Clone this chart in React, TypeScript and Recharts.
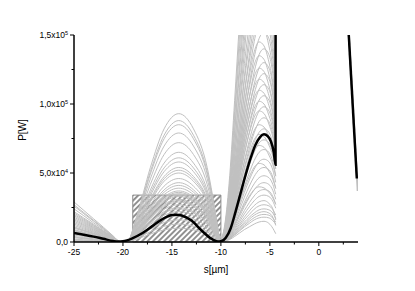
import React from 'react';
import { LineChart, Line, XAxis, YAxis, ReferenceArea } from 'recharts';

const FONT = '"Liberation Sans", Arial, Helvetica, sans-serif';

// ---- axes ----
const xTicks = [-25, -22.5, -20, -17.5, -15, -12.5, -10, -7.5, -5, -2.5, 0, 2.5];
const xMajor = [-25, -20, -15, -10, -5, 0];
const xMajorLabels = ['-25', '-20', '-15', '-10', '-5', '0'];
const yTicks = [0, 25, 50, 75, 100, 125, 150]; // in 10^3 W
const yMajor = [0, 50, 100, 150];
const yMantissa = ['0,0', '5,0x10', '1,0x10', '1,5x10'];
const yExponent = ['', '4', '5', '5'];

// ---- black curve (10^3 W) ----
const blackX = [-25, -24, -23, -22, -21, -20.5, -20, -19, -18, -17, -16, -15, -14.5, -14, -13, -12, -11, -10.3, -10, -9.5, -9, -8.5, -8, -7.5, -7, -6.5, -6, -5.6, -5.2, -4.9, -4.6, -4.42, -4.4];
const blackY = [6.5, 5.3, 3.9, 2.3, 0.7, 0.3, 0.5, 2.8, 6.5, 11.5, 16.5, 19.5, 19.8, 19.2, 15.5, 8.5, 2.5, 0.3, 0.5, 3, 10, 22, 35, 48, 60, 70, 76, 78, 76.5, 73, 65, 56, 400];
const blackRightX = [2.9, 3.88];
const blackRightY = [170, 46];
const grayRightX = [2.9, 3.97];
const grayRightY = [170, 37];

// ---- gray curves, part 1: left slope + hump ----
const humpX = [-25, -24, -23, -22, -21, -20.3, -19.6, -18.6, -17.2, -15.8, -14.3, -12.8, -11.4, -10.6, -10.1];
const humpRows = [
  [8, 6.3, 4.6, 3, 1.2, 0.1, 0, 18.6, 54, 82, 93, 82, 54, 23, 0],
  [12, 9.5, 7, 4.4, 1.8, 0.1, 0, 17.6, 51, 77.4, 88, 77.4, 51, 22, 0],
  [5, 4, 2.9, 1.9, 0.8, 0, 0, 17, 49.3, 74.8, 85, 74.8, 49.3, 21.3, 0],
  [18, 14.2, 10.4, 6.7, 2.7, 0.2, 0, 15.8, 45.8, 69.5, 79, 69.5, 45.8, 19.8, 0],
  [10, 7.9, 5.8, 3.7, 1.5, 0.1, 0, 14.4, 41.8, 63.4, 72, 63.4, 41.8, 18, 0],
  [29, 22.9, 16.8, 10.7, 4.4, 0.3, 0, 13, 37.7, 57.2, 65, 57.2, 37.7, 16.3, 0],
  [14, 11.1, 8.1, 5.2, 2.1, 0.1, 0, 12.2, 35.4, 53.7, 61, 53.7, 35.4, 15.3, 0],
  [3, 2.4, 1.7, 1.1, 0.5, 0, 0, 11.6, 33.6, 51, 58, 51, 33.6, 14.5, 0],
  [22, 17.4, 12.8, 8.1, 3.3, 0.2, 0, 10.8, 31.3, 47.5, 54, 47.5, 31.3, 13.5, 0],
  [7, 5.5, 4.1, 2.6, 1.1, 0.1, 0, 10.4, 30.2, 45.8, 52, 45.8, 30.2, 13, 0],
  [26, 20.5, 15.1, 9.6, 3.9, 0.3, 0, 10, 29, 44, 50, 44, 29, 12.5, 0],
  [16, 12.6, 9.3, 5.9, 2.4, 0.2, 0, 9.2, 26.7, 40.5, 46, 40.5, 26.7, 11.5, 0],
  [1, 0.8, 0.6, 0.4, 0.2, 0, 0, 8.6, 24.9, 37.8, 43, 37.8, 24.9, 10.8, 0],
  [20, 15.8, 11.6, 7.4, 3, 0.2, 0, 8.2, 23.8, 36.1, 41, 36.1, 23.8, 10.3, 0],
  [11, 8.7, 6.4, 4.1, 1.7, 0.1, 0, 7.8, 22.6, 34.3, 39, 34.3, 22.6, 9.8, 0],
  [24, 19, 13.9, 8.9, 3.6, 0.2, 0, 7.4, 21.5, 32.6, 37, 32.6, 21.5, 9.3, 0],
  [3.5, 2.8, 2, 1.3, 0.5, 0, 0, 7.2, 20.9, 31.7, 36, 31.7, 20.9, 9, 0],
  [4, 3.2, 2.3, 1.5, 0.6, 0, 0, 7, 20.3, 30.8, 35, 30.8, 20.3, 8.8, 0],
  [10.5, 8.3, 6.1, 3.9, 1.6, 0.1, 0, 6.8, 19.7, 29.9, 34, 29.9, 19.7, 8.5, 0],
  [15, 11.9, 8.7, 5.6, 2.3, 0.2, 0, 6.6, 19.1, 29, 33, 29, 19.1, 8.3, 0],
  [9, 7.1, 5.2, 3.3, 1.4, 0.1, 0, 6.2, 18, 27.3, 31, 27.3, 18, 7.8, 0],
  [8.5, 6.7, 4.9, 3.1, 1.3, 0.1, 0, 6, 17.4, 26.4, 30, 26.4, 17.4, 7.5, 0],
  [27, 21.3, 15.7, 10, 4.1, 0.3, 0, 5.8, 16.8, 25.5, 29, 25.5, 16.8, 7.3, 0],
  [2, 1.6, 1.2, 0.7, 0.3, 0, 0, 5.4, 15.7, 23.8, 27, 23.8, 15.7, 6.8, 0],
  [13, 10.3, 7.5, 4.8, 2, 0.1, 0, 5, 14.5, 22, 25, 22, 14.5, 6.3, 0],
  [1.5, 1.2, 0.9, 0.6, 0.2, 0, 0, 4.8, 13.9, 21.1, 24, 21.1, 13.9, 6, 0],
  [6, 4.7, 3.5, 2.2, 0.9, 0.1, 0, 4.4, 12.8, 19.4, 22, 19.4, 12.8, 5.5, 0],
  [17, 13.4, 9.9, 6.3, 2.6, 0.2, 0, 3.8, 11, 16.7, 19, 16.7, 11, 4.8, 0],
  [0.5, 0.4, 0.3, 0.2, 0.1, 0, 0, 3.2, 9.3, 14.1, 16, 14.1, 9.3, 4, 0],
  [21, 16.6, 12.2, 7.8, 3.2, 0.2, 0, 2.6, 7.5, 11.4, 13, 11.4, 7.5, 3.3, 0],
  [19, 15, 11, 7, 2.9, 0.2, 0, 2, 5.8, 8.8, 10, 8.8, 5.8, 2.5, 0],
];

// ---- gray curves, part 2: steep rise before -4.4 ----
const riseX = [-10.1, -9.6, -9.1, -8.6, -8.1, -7.6, -7.1, -6.6, -6.1, -5.6, -5.1, -4.7, -4.4];
const riseRows = [
  [0, 0.5, 1.8, 4, 6.5, 9, 11, 13, 14.5, 15, 13.5, 10, 6],
  [0, 0.5, 2.2, 5, 8, 11, 13.5, 16, 17.5, 18, 17.5, 15.5, 13],
  [0, 0.6, 2.4, 5.4, 8.6, 12, 15, 17.6, 19.4, 20, 19.4, 17.4, 14.4],
  [0, 0.7, 2.6, 6, 9.5, 13, 16.5, 19.4, 21.3, 22, 21, 18, 12],
  [0, 0.7, 2.9, 6.5, 10.3, 14.4, 18, 21, 23.3, 24, 23.3, 21, 17],
  [0, 0.8, 3.2, 7.3, 11.6, 16.2, 20, 23.8, 26.2, 27, 26.2, 23.5, 19.5],
  [0, 0.9, 3.6, 8.1, 12.9, 18, 22.5, 26.4, 29.1, 30, 28, 24, 16],
  [0, 1, 4.1, 9.2, 14.6, 20.4, 25.5, 29.9, 33, 34, 33, 29.6, 24.5],
  [0, 1.1, 4.6, 10.3, 16.3, 22.8, 28.5, 33.4, 36.9, 38, 36.9, 33, 27.4],
  [0, 1.6, 6, 12.8, 20, 27.2, 33.2, 38, 40, 39.2, 36, 32, 27.2],
  [0, 1.3, 5.2, 11.6, 18.5, 25.8, 32.3, 37.8, 41.7, 43, 41.7, 37.4, 31],
  [0, 1.4, 5.8, 13, 20.6, 28.8, 36, 42.2, 46.6, 48, 46.6, 41.8, 34.6],
  [0, 1.6, 6.5, 14.6, 23.2, 32.4, 40.5, 47.5, 52.4, 54, 52.4, 47, 38.9],
  [0, 2.3, 8.6, 18.2, 28.5, 38.8, 47.3, 54.2, 57, 55.9, 51.3, 45.6, 38.8],
  [0, 1.8, 7.2, 16.2, 25.8, 36, 45, 52.8, 58.2, 60, 58.2, 52.2, 43.2],
  [0, 2, 8, 18.1, 28.8, 40.2, 50.3, 59, 65, 67, 65, 58.3, 48.2],
  [0, 2.8, 10.5, 22.4, 35, 47.6, 58.1, 66.5, 70, 68.6, 63, 56, 47.6],
  [0, 2.2, 8.9, 20, 31.8, 44.4, 55.5, 65.1, 71.8, 74, 71.8, 64.4, 53.3],
  [0, 3.1, 11.7, 25, 39, 53, 64.7, 74.1, 78, 76.4, 70.2, 62.4, 53],
  [0, 2.5, 9.8, 22.1, 35.3, 49.2, 61.5, 72.2, 79.5, 82, 79.5, 71.3, 59],
  [0, 3.4, 12.8, 27.2, 42.5, 57.8, 70.6, 80.8, 85, 83.3, 76.5, 68, 57.8],
  [0, 2.7, 10.8, 24.3, 38.7, 54, 67.5, 79.2, 87.3, 90, 87.3, 78.3, 64.8],
  [0, 3.8, 14.3, 30.4, 47.5, 64.6, 78.9, 90.3, 95, 93.1, 85.5, 76, 64.6],
  [0, 2.9, 11.8, 26.5, 42.1, 58.8, 73.5, 86.2, 95, 98, 95, 85.3, 70.6],
  [0, 4.1, 15.3, 32.6, 51, 69.4, 84.7, 96.9, 102, 100, 91.8, 81.6, 69.4],
  [0, 3.2, 12.7, 28.6, 45.6, 63.6, 79.5, 93.3, 102.8, 106, 102.8, 92.2, 76.3],
  [0, 4.4, 16.5, 35.2, 55, 74.8, 91.3, 104.5, 110, 107.8, 99, 88, 74.8],
  [0, 3.4, 13.7, 30.8, 49, 68.4, 85.5, 100.3, 110.6, 114, 110.6, 99.2, 82.1],
  [0, 4.7, 17.7, 37.8, 59, 80.2, 97.9, 112.1, 118, 115.6, 106.2, 94.4, 80.2],
  [0, 3.7, 14.6, 32.9, 52.5, 73.2, 91.5, 107.4, 118.3, 122, 118.3, 106.1, 87.8],
  [0, 5, 18.9, 40.3, 63, 85.7, 104.6, 119.7, 126, 123.5, 113.4, 100.8, 85.7],
  [0, 3.9, 15.6, 35.1, 55.9, 78, 97.5, 114.4, 126.1, 130, 126.1, 113.1, 93.6],
  [0, 5.4, 20.3, 43.2, 67.5, 91.8, 112, 128.3, 135, 132.3, 121.5, 108, 91.8],
  [0, 4.2, 16.8, 37.8, 60.2, 84, 105, 123.2, 135.8, 140, 135.8, 121.8, 100.8],
  [0, 5.8, 21.8, 46.4, 72.5, 98.6, 120.4, 137.8, 145, 142.1, 130.5, 116, 98.6],
  [0, 4.6, 18.2, 41, 65.4, 91.2, 114, 133.8, 147.4, 152, 147.4, 132.2, 109.4],
  [0, 6.3, 23.7, 50.6, 79, 107.4, 131.1, 150.1, 158, 154.8, 142.2, 126.4, 107.4],
  [0, 5, 19.8, 44.6, 71, 99, 123.8, 145.2, 160, 165, 160, 143.6, 118.8],
  [0, 6.9, 25.8, 55, 86, 117, 142.8, 163.4, 172, 168.6, 154.8, 137.6, 117],
  [0, 5.4, 21.6, 48.6, 77.4, 108, 135, 158.4, 174.6, 180, 174.6, 156.6, 129.6],
  [0, 7.6, 28.5, 60.8, 95, 129.2, 157.7, 180.5, 190, 186.2, 171, 152, 129.2],
  [0, 6, 24, 54, 86, 120, 150, 176, 194, 200, 194, 174, 144],
  [0, 8.6, 32.3, 68.8, 107.5, 146.2, 178.5, 204, 215, 210.7, 193.5, 172, 146.2],
  [0, 6.9, 27.6, 62.1, 98.9, 138, 172.5, 202, 223, 230, 223, 200, 165.6],
  [0, 9.8, 36.8, 78.4, 122.5, 166.6, 203.4, 232.8, 245, 240, 220.5, 196, 166.6],
  [0, 7.8, 31.2, 70.2, 111.8, 156, 195, 229, 252, 260, 252, 226, 187],
  [0, 11.2, 42, 89.6, 140, 190.4, 232.4, 266, 280, 274.4, 252, 224, 190.4],
  [0, 9, 36, 81, 129, 180, 225, 264, 291, 300, 291, 261, 216],
  [0, 12.8, 48, 102.4, 160, 217.6, 265.6, 304, 320, 313.6, 288, 256, 217.6],
  [0, 10.5, 42, 94.5, 150.5, 210, 262.5, 308, 339.5, 350, 339.5, 304.5, 252],
];

// ---- hatched box ----
const boxX = [-19, -10];
const boxY = [0, 34];

const toPoints = (xs: number[], ys: number[]) => xs.map((x, i) => ({ x, y: ys[i] }));

const GRAY = '#c0c0c0';

const XTick = (props: any) => {
  const { x, y, payload } = props;
  const idx = xMajor.indexOf(payload.value);
  const major = idx >= 0;
  return (
    <g>
      <line x1={x} x2={x} y1={y} y2={y + (major ? 4 : 2.5)} stroke="#000" strokeWidth={1} />
      {major && (
        <text x={x} y={y + 13} textAnchor="middle" fontSize={8.5} fontFamily={FONT} fill="#000">
          {xMajorLabels[idx]}
        </text>
      )}
    </g>
  );
};

const YTick = (props: any) => {
  const { x, y, payload } = props;
  const idx = yMajor.indexOf(payload.value);
  const major = idx >= 0;
  return (
    <g>
      <line x1={x} x2={x - (major ? 4 : 2.5)} y1={y} y2={y} stroke="#000" strokeWidth={1} />
      {major && (
        <text x={x - 6} y={y + 3} textAnchor="end" fontSize={8.5} fontFamily={FONT} fill="#000">
          {yMantissa[idx]}
          {yExponent[idx] && (
            <tspan dy={-3.5} fontSize={5.5}>
              {yExponent[idx]}
            </tspan>
          )}
        </text>
      )}
    </g>
  );
};

const XTitle = () => (
  <text x={216} y={273} textAnchor="middle" fontSize={10} fontFamily={FONT} fill="#000">
    s[µm]
  </text>
);

const YTitle = () => (
  <text
    x={26}
    y={130}
    transform="rotate(-90 26 130)"
    textAnchor="middle"
    fontSize={10}
    fontFamily={FONT}
    fill="#000"
  >
    P[W]
  </text>
);

export default function App() {
  return (
    <div style={{ position: 'absolute', left: 0, top: 0, width: 415, height: 291, background: '#fff' }}>
      <LineChart width={415} height={291} margin={{ top: 35, right: 57, bottom: 0, left: 0 }}>
        <defs>
          <pattern id="hatch" patternUnits="userSpaceOnUse" width={3.9} height={3.9} patternTransform="rotate(45)">
            <line x1={1.95} y1={-1} x2={1.95} y2={4.9} stroke="#000" strokeWidth={0.85} />
          </pattern>
        </defs>
        <XAxis
          type="number"
          dataKey="x"
          domain={[-25, 4]}
          allowDataOverflow
          ticks={xTicks}
          interval={0}
          tick={XTick}
          tickLine={false}
          tickSize={0}
          tickMargin={0}
          height={49}
          axisLine={{ stroke: '#000', strokeWidth: 1.5 }}
          label={{ content: XTitle }}
        />
        <YAxis
          type="number"
          domain={[0, 150]}
          allowDataOverflow
          ticks={yTicks}
          interval={0}
          tick={YTick}
          tickLine={false}
          tickSize={0}
          tickMargin={0}
          width={74}
          axisLine={{ stroke: '#000', strokeWidth: 1.5 }}
          label={{ content: YTitle }}
        />
        {humpRows.map((row, i) => (
          <Line
            key={'h' + i}
            data={toPoints(humpX, row)}
            dataKey="y"
            type="monotone"
            stroke={GRAY}
            strokeWidth={1}
            dot={false}
            activeDot={false}
            isAnimationActive={false}
          />
        ))}
        {riseRows.map((row, i) => (
          <Line
            key={'r' + i}
            data={toPoints(riseX, row)}
            dataKey="y"
            type="monotone"
            stroke={GRAY}
            strokeWidth={1}
            dot={false}
            activeDot={false}
            isAnimationActive={false}
          />
        ))}
        <Line
          data={toPoints(grayRightX, grayRightY)}
          dataKey="y"
          type="linear"
          stroke={GRAY}
          strokeWidth={2}
          dot={false}
          activeDot={false}
          isAnimationActive={false}
        />
        <ReferenceArea
          x1={boxX[0]}
          x2={boxX[1]}
          y1={boxY[0]}
          y2={boxY[1]}
          fill="url(#hatch)"
          fillOpacity={1}
          stroke="#8c8c8c"
          strokeWidth={1}
        />
        <Line
          data={toPoints(blackX, blackY)}
          dataKey="y"
          type="monotone"
          stroke="#000"
          strokeWidth={2.5}
          dot={false}
          activeDot={false}
          isAnimationActive={false}
        />
        <Line
          data={toPoints(blackRightX, blackRightY)}
          dataKey="y"
          type="linear"
          stroke="#000"
          strokeWidth={2.5}
          dot={false}
          activeDot={false}
          isAnimationActive={false}
        />
      </LineChart>
    </div>
  );
}
